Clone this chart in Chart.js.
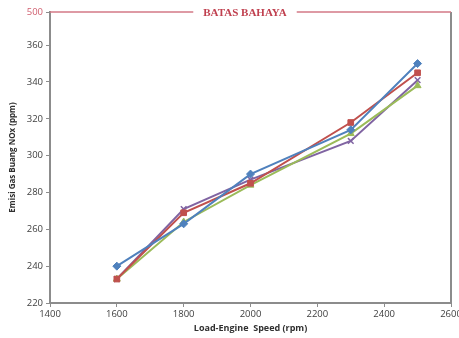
<!DOCTYPE html>
<html>
<head>
<meta charset="utf-8">
<script src="https://cdn.jsdelivr.net/npm/chart.js@4"></script>
<style>
  html, body { margin: 0; padding: 0; background: #fff; }
  #wrap { width: 459px; height: 338px; }
</style>
</head>
<body>
<div id="wrap"><canvas id="c"></canvas></div>
<script>
const speeds = [1600, 1800, 2000, 2300, 2500];
const seriesA = [240, 263, 290, 314, 350];
const seriesB = [233, 269, 285, 318, 345];
const seriesC = [233, 264, 284, 312, 338];
const seriesD = [233, 271, 287, 308, 341];
const yTicks = [220, 240, 260, 280, 300, 320, 340, 360];
const limitLabel = "500";
const limitText = "BATAS BAHAYA";
const TOP = 378; // axis top where the limit line sits (broken axis)

const toXY = (arr) => arr.map((v, i) => ({ x: speeds[i], y: v }));

const frame = {
  id: "frame",
  afterDraw(chart) {
    const { ctx, chartArea } = chart;
    const y = chart.scales.y.getPixelForValue(TOP);
    ctx.save();
    // right border
    ctx.strokeStyle = "#8c8c8c";
    ctx.lineWidth = 2;
    ctx.beginPath();
    ctx.moveTo(chartArea.right, chartArea.top);
    ctx.lineTo(chartArea.right, chartArea.bottom);
    ctx.stroke();
    // limit line with label
    ctx.font = "bold 11px 'Liberation Serif', 'DejaVu Serif', serif";
    const cx = 245;
    const w = ctx.measureText(limitText).width;
    ctx.strokeStyle = "#d47a86";
    ctx.lineWidth = 1.5;
    ctx.beginPath();
    ctx.moveTo(chartArea.left, y);
    ctx.lineTo(cx - w / 2 - 10, y);
    ctx.moveTo(cx + w / 2 + 10, y);
    ctx.lineTo(chartArea.right, y);
    ctx.stroke();
    ctx.fillStyle = "#c0404f";
    ctx.textAlign = "center";
    ctx.textBaseline = "middle";
    ctx.fillText(limitText, cx, y + 1);
    ctx.restore();
  }
};

const mk = (label, data, color, style, size) => ({
  label,
  data: toXY(data),
  borderColor: color,
  backgroundColor: color,
  borderWidth: 2,
  pointStyle: style,
  pointRadius: size,
  pointBorderWidth: style === "crossRot" ? 1.5 : 1,
  tension: 0
});

new Chart(document.getElementById("c"), {
  type: "line",
  data: {
    datasets: [
      mk("A", seriesA, "#4F81BD", "rectRot", 4),
      mk("B", seriesB, "#C0504D", "rect", 4),
      mk("C", seriesC, "#9BBB59", "triangle", 4),
      mk("D", seriesD, "#8064A2", "crossRot", 4)
    ]
  },
  options: {
    responsive: true,
    maintainAspectRatio: false,
    animation: false,
    layout: { padding: { top: 12, right: 8, left: 4, bottom: 4 } },
    plugins: { legend: { display: false }, tooltip: { enabled: false } },
    scales: {
      x: {
        type: "linear",
        min: 1400,
        max: 2600,
        afterFit(scale) {
          scale.paddingRight = 0;
          scale.height = 31;
        },
        ticks: {
          stepSize: 200,
          color: "#404040",
          font: { size: 9.5, family: "'Open Sans', sans-serif" },
          padding: 2,
          callback: (v) => String(v)
        },
        grid: { drawOnChartArea: false, tickLength: 4, color: "#8c8c8c" },
        border: { color: "#8c8c8c", width: 2 },
        title: {
          display: true,
          text: "Load-Engine  Speed (rpm)",
          color: "#303030",
          font: { size: 9, weight: "bold", family: "'Open Sans', sans-serif" },
          padding: { top: 0, bottom: 0 }
        }
      },
      y: {
        min: 220,
        max: TOP,
        afterBuildTicks(scale) {
          scale.ticks = yTicks.concat([TOP]).map(v => ({ value: v }));
        },
        afterFit(scale) { scale.width = 46; },
        ticks: {
          color: (c) => c.tick && c.tick.value === TOP ? "#d06070" : "#404040",
          font: { size: 9.5, family: "'Open Sans', sans-serif" },
          padding: 3,
          callback: (v) => v === TOP ? limitLabel : v
        },
        grid: { drawOnChartArea: false, tickLength: 4, color: "#8c8c8c" },
        border: { color: "#8c8c8c", width: 2 },
        title: {
          display: true,
          text: "Emisi Gas Buang NOx (ppm)",
          color: "#303030",
          font: { size: 8, weight: "bold", family: "'Open Sans', sans-serif" },
          padding: { bottom: 0 }
        }
      }
    }
  },
  plugins: [frame]
});
</script>
</body>
</html>
